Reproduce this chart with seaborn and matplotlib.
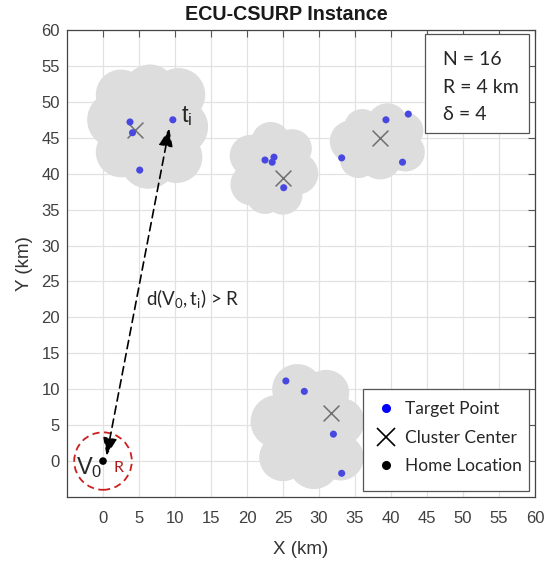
import matplotlib
matplotlib.use("Agg")
import matplotlib.pyplot as plt
from matplotlib.patches import Circle, Ellipse, Rectangle
from matplotlib.lines import Line2D
import seaborn as sns
import pandas as pd

# Target points (km), four clusters of four
target_x = [3.75, 4.1, 5.1, 9.7, 22.5, 23.75, 23.5, 25.1,
            39.3, 42.4, 33.15, 41.6, 25.4, 27.96, 32.0, 33.15]
target_y = [47.2, 45.7, 40.5, 47.5, 41.9, 42.3, 41.6, 38.05,
            47.5, 48.3, 42.2, 41.6, 11.15, 9.7, 3.75, -1.7]

# Cluster centres
center_x = [4.4, 24.95, 38.5, 31.7]
center_y = [46.1, 39.4, 44.9, 6.7]

# Home location and service radius
home_x = [0.0]
home_y = [0.0]
radius_km = 4

# Farthest target from home (t_i)
far_x, far_y = 9.2, 46.3

# Cloud shapes around each cluster: a core ellipse (cx, cy, w, h) plus edge lobes (cx, cy, r)
cloud_cores = [(6.2, 46.5, 12, 12), (23.8, 40.7, 8, 8.5),
               (38, 44.5, 9, 6), (28.8, 4.8, 11, 13)]
cloud_lobes = [
    [(1.7, 47.5, 3.9), (2.5, 51, 3.5), (6.5, 51.5, 3.7), (10.5, 51, 3.7),
     (10.8, 46.5, 3.8), (10.2, 42.3, 3.6), (6.3, 41.8, 3.9), (2.5, 43, 3.5)],
    [(20.5, 42.5, 2.9), (20.6, 38.5, 2.9), (23.3, 44.5, 2.7), (26.3, 43.5, 2.7),
     (27, 40, 2.9), (25, 37, 2.7), (22.5, 37, 2.6)],
    [(34.4, 44.5, 2.9), (36, 46.5, 2.5), (39.5, 47, 2.8), (42, 46, 2.5),
     (42, 43, 2.7), (38.5, 42.2, 3.0), (35.5, 42, 2.6)],
    [(27, 10, 3.5), (31, 9.5, 3.2), (24.2, 5.5, 3.7), (33, 5.5, 3.3),
     (25, 0.5, 3.3), (29.3, -0.4, 3.5), (33, 0.5, 3.2), (29, 5, 4.5)],
]

info_lines = ["N = 16", "R = 4 km", "δ = 4"]
legend_labels = ["Target Point", "Cluster Center", "Home Location"]
ticks = list(range(0, 61, 5))

sns.set_theme(style="white")
plt.rcParams["font.family"] = ["Liberation Sans", "DejaVu Sans"]
plt.rcParams["mathtext.fontset"] = "custom"
plt.rcParams["mathtext.rm"] = "Lato"
plt.rcParams["mathtext.it"] = "Lato:italic"

fig = plt.figure(figsize=(5.48, 5.62), dpi=100)
ax = fig.add_axes([67 / 548, 65 / 562, 468 / 548, 467 / 562])

cloud_color = "#dddddd"
for (ex, ey, ew, eh), lobes in zip(cloud_cores, cloud_lobes):
    ax.add_patch(Ellipse((ex, ey), ew, eh, facecolor=cloud_color, edgecolor="none", zorder=1))
    for cx, cy, r in lobes:
        ax.add_patch(Circle((cx, cy), r, facecolor=cloud_color, edgecolor="none", zorder=1))

tdf = pd.DataFrame({"x": target_x, "y": target_y})
cdf = pd.DataFrame({"x": center_x, "y": center_y})
hdf = pd.DataFrame({"x": home_x, "y": home_y})

sns.scatterplot(data=tdf, x="x", y="y", ax=ax, color="#4848e0", s=26,
                edgecolor="none", zorder=4, legend=False)
sns.scatterplot(data=cdf, x="x", y="y", ax=ax, color="#707070", marker="x",
                s=130, linewidth=1.1, zorder=3, legend=False)
sns.scatterplot(data=hdf, x="x", y="y", ax=ax, color="black", s=30,
                edgecolor="none", zorder=4, legend=False)

ax.add_patch(Circle((home_x[0], home_y[0]), radius_km, facecolor="none",
                    edgecolor="#cc1f1f", lw=1.3, linestyle=(0, (4, 2.5)), zorder=3))

ax.annotate("", xy=(far_x, far_y), xytext=(0.5, 0.75),
            arrowprops=dict(arrowstyle="<|-|>,head_length=0.9,head_width=0.35",
                            color="black", lw=1.2, linestyle=(0, (5, 3)),
                            shrinkA=0, shrinkB=0), zorder=5)

ax.text(10.8, 48.0, r"$\mathregular{t_i}$", fontsize=17, ha="left", va="center", zorder=6)
ax.text(-3.8, -0.9, r"$\mathregular{V_0}$", fontsize=17, ha="left", va="center", zorder=6)
ax.text(1.5, -1.0, "R", fontsize=11.5, color="#b01818", family="Lato",
        ha="left", va="center", zorder=6)
ax.text(6.0, 22.6, r"$\mathregular{d(V_0,t_i)}$ > R", fontsize=13.5, family="Lato",
        ha="left", va="center", zorder=6)

ax.set_xlim(-5, 60)
ax.set_ylim(-5, 60)
ax.set_xticks(ticks)
ax.set_yticks(ticks)
ax.grid(True, color="#e2e2e2", lw=0.9)
ax.set_axisbelow(True)
ax.tick_params(direction="in", top=True, right=True, length=5, width=0.8,
               color="#555555", labelcolor="#404040", labelsize=12)
ax.tick_params(axis="x", pad=10)
ax.tick_params(axis="y", pad=5)
for sp in ax.spines.values():
    sp.set_color("#444444")
    sp.set_linewidth(0.9)

ax.set_xlabel("X (km)", fontsize=13.5, color="#333333", labelpad=11)
ax.set_ylabel("Y (km)", fontsize=13.5, color="#333333", labelpad=6)
fig.text(286 / 548, 1 - 15 / 562, "ECU-CSURP Instance", fontsize=14.2,
         fontweight="bold", ha="center", va="center", color="#1a1a1a")

# Parameter box
ax.add_patch(Rectangle((0.766, 0.779), 0.221, 0.212, transform=ax.transAxes,
                       facecolor="white", edgecolor="#555555", lw=0.9, zorder=7))
for i, line in enumerate(info_lines):
    ax.text(0.803, 0.936 - i * 0.059, line, transform=ax.transAxes, fontsize=14,
            family=["Lato", "DejaVu Sans"], ha="left", va="center", zorder=8)

# Legend box
ax.add_patch(Rectangle((0.632, 0.013), 0.355, 0.218, transform=ax.transAxes,
                       facecolor="white", edgecolor="#555555", lw=0.9, zorder=7))
handles = [
    Line2D([], [], ls="none", marker="o", color="#0000ff", markersize=5.5),
    Line2D([], [], ls="none", marker="x", color="black", markersize=13, mew=1.2),
    Line2D([], [], ls="none", marker="o", color="black", markersize=5.5),
]
leg = ax.legend(handles, legend_labels,
                loc="upper left", bbox_to_anchor=(0.647, 0.218), frameon=False,
                prop={"family": "Lato", "size": 12.5}, handlelength=1.2,
                handletextpad=0.5, labelspacing=0.72, borderpad=0.35,
                borderaxespad=0)
leg.set_zorder(9)

fig.savefig("out.png", dpi=100)
